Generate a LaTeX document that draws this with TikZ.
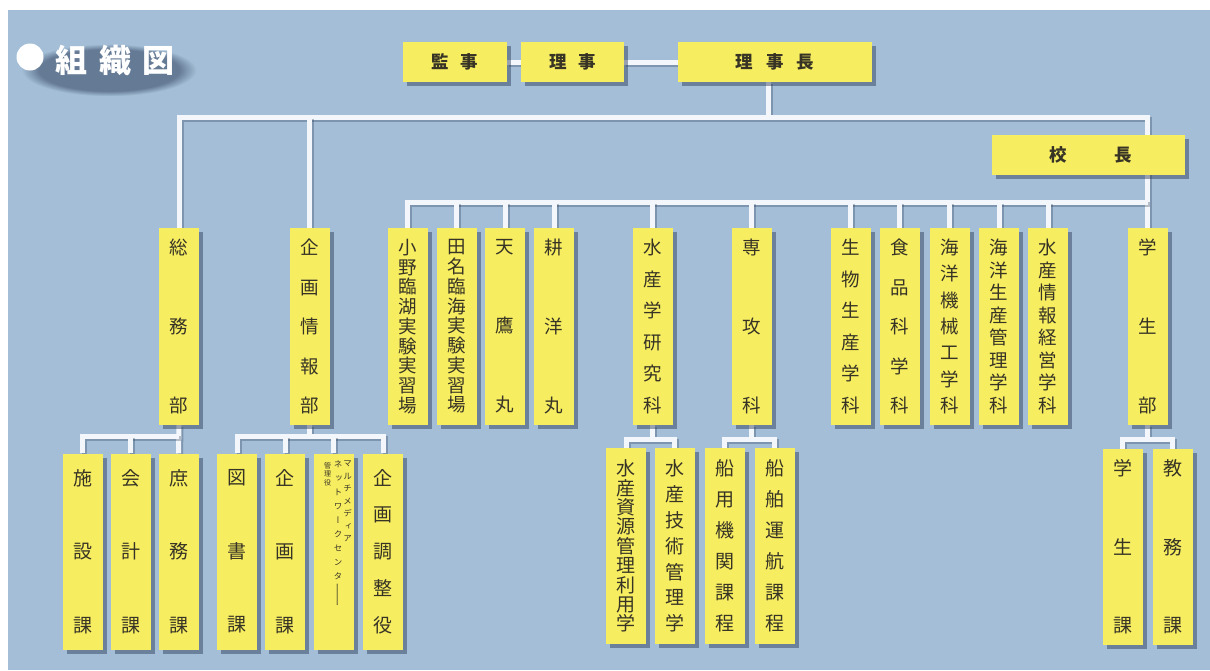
\documentclass[tikz,border=0pt]{standalone}
\usepackage{fontspec}
\setmainfont{Noto Sans CJK JP}
\newfontfamily\vertfont[RawFeature=+vert]{Noto Sans CJK JP}
\usetikzlibrary{shadows,calc,fadings}
\definecolor{bgc}{RGB}{163,190,214}
\definecolor{ybc}{RGB}{247,237,96}
\definecolor{txc}{RGB}{55,52,38}
\definecolor{lnc}{RGB}{243,247,251}
\definecolor{shc}{RGB}{40,55,85}
\pgfdeclarelayer{back}
\pgfdeclarelayer{lines}
\pgfsetlayers{back,lines,main}
\tikzset{
  ybox/.style={fill=ybc, draw=none, inner sep=0pt, text=txc,
    drop shadow={shadow xshift=4pt, shadow yshift=-4pt, fill=shc, opacity=.45}},
  hbox/.style={ybox, minimum height=40pt, font=\fontsize{17.5}{20}\bfseries\selectfont},
  vbox2/.style={ybox, minimum width=40pt, minimum height=197pt, align=center,
    font=\fontsize{18.5}{#1}\selectfont},
  vbox3/.style={ybox, minimum width=40pt, minimum height=196pt, align=center,
    font=\fontsize{19}{#1}\selectfont},
  mcol/.style={inner sep=0pt, text=txc, align=center, anchor=north},
  conn/.style={draw=lnc, line width=5pt, line join=miter,
    preaction={draw=shc, opacity=.3, line width=5pt,
      transform canvas={xshift=2pt, yshift=-2pt}}},
}
\begin{document}
\begin{tikzpicture}[x=1pt, y=-1pt]
\useasboundingbox (0,0) rectangle (1210,670);
\begin{pgfonlayer}{back}
\fill[white] (0,0) rectangle (1210,670);
\fill[bgc] (8,10) rectangle (1210,670);
\end{pgfonlayer}

% title
\fill[shc, opacity=.5, path fading=circle with fuzzy edge 20 percent] (22,44) rectangle (196,96);
\node[circle, fill=white, minimum size=27pt, inner sep=0pt] (dot) at (30,57) {};
\node[font=\fontsize{32}{36}\bfseries\selectfont, text=white] (title) at (115,60) {組\hspace{.35em}織\hspace{.35em}図};

% top row
\node[hbox, minimum width=104pt] (kanji) at (455,62) {監\hspace{.65em}事};
\node[hbox, minimum width=103pt] (riji) at (572.5,62) {理\hspace{.65em}事};
\node[hbox, minimum width=194pt] (rijicho) at (775,62) {理\hspace{.75em}事\hspace{.75em}長};
\node[hbox, minimum width=193pt] (kocho) at (1088,155) {\hspace{5pt}校\hspace{2.7em}長};

% second row
\node[vbox2=79pt] (somu) at (179,326.5) {総\\務\\部};
\node[vbox2=39.5pt] (kikaku) at (309.5,326.5) {企\\画\\情\\報\\部};
\node[vbox2=19.75pt] (ono) at (407.5,326.5) {小\\野\\臨\\湖\\実\\験\\実\\習\\場};
\node[vbox2=19.75pt] (tana) at (456.5,326.5) {田\\名\\臨\\海\\実\\験\\実\\習\\場};
\node[vbox2=79pt] (tenyo) at (505,326.5) {天\\鷹\\丸};
\node[vbox2=79pt] (koyo) at (554,326.5) {耕\\洋\\丸};
\node[vbox2=31.6pt] (suisan) at (652.5,326.5) {水\\産\\学\\研\\究\\科};
\node[vbox2=79pt] (senko) at (751.5,326.5) {専\\攻\\科};
\node[vbox2=31.6pt] (seibutsu) at (850.5,326.5) {生\\物\\生\\産\\学\\科};
\node[vbox2=39.5pt] (shokuhin) at (899.5,326.5) {食\\品\\科\\学\\科};
\node[vbox2=26.33pt] (kikai) at (949.5,326.5) {海\\洋\\機\\械\\工\\学\\科};
\node[vbox2=22.57pt] (seisan) at (999,326.5) {海\\洋\\生\\産\\管\\理\\学\\科};
\node[vbox2=22.57pt] (joho) at (1048,326.5) {水\\産\\情\\報\\経\\営\\学\\科};
\node[vbox2=79pt] (gakuseibu) at (1147.5,326.5) {学\\生\\部};

% third row
\node[vbox3=73.5pt] (shisetsu) at (82.5,551.5) {施\\設\\課};
\node[vbox3=73.5pt] (kaikei) at (130.5,551.5) {会\\計\\課};
\node[vbox3=73.5pt] (shomu) at (178.5,551.5) {庶\\務\\課};
\node[vbox3=73.5pt] (tosho) at (237,551.5) {図\\書\\課};
\node[vbox3=73.5pt] (kikakuka) at (285,551.5) {企\\画\\課};
\node[vbox3=14pt] (multi) at (333.5,551.5) {};
\node[mcol, font=\vertfont\fontsize{8.5}{12.5}\selectfont] (multiA) at (347.5,461) {マ\\ル\\チ\\メ\\デ\\ィ\\ア};
\node[mcol, font=\vertfont\fontsize{8.5}{14}\selectfont] (multiB) at (338,461) {ネ\\ッ\\ト\\ワ\\ー\\ク\\セ\\ン\\タ\\\raisebox{-12pt}{\scalebox{1}[3.2]{ー}}};
\node[mcol, font=\vertfont\fontsize{7}{8.5}\selectfont] (multiC) at (327.5,462) {管\\理\\役};
\node[vbox3=36.75pt] (chosei) at (383,551.5) {企\\画\\調\\整\\役};
\node[vbox3=19.4pt] (shigen) at (626,546) {水\\産\\資\\源\\管\\理\\利\\用\\学};
\node[vbox3=25.8pt] (gijutsu) at (674.5,546) {水\\産\\技\\術\\管\\理\\学};
\node[vbox3=31pt] (senyo) at (724.5,546) {船\\用\\機\\関\\課\\程};
\node[vbox3=31pt] (unko) at (774.5,546) {船\\舶\\運\\航\\課\\程};
\node[vbox3=78.5pt] (gakuseika) at (1122.5,547) {学\\生\\課};
\node[vbox3=78.5pt] (kyomu) at (1172.5,547) {教\\務\\課};

% connectors
\begin{pgfonlayer}{lines}
\coordinate (b1) at (768,117);
\coordinate (b2) at (768,202);
\coordinate (s3) at (0,436);
\coordinate (m3) at (0,439);
\draw[conn] (kanji.east) -- (riji.west);
\draw[conn] (riji.east) -- (rijicho.west);
\draw[conn] ($(rijicho.south)+(-7,0)$) -- (b1);
\draw[conn] (somu.north) |- (gakuseibu.north |- b1) -- (gakuseibu.north);
\draw[conn] (kikaku.north) -- (kikaku.north |- b1);
\draw[conn] (ono.north) |- (gakuseibu.north |- b2);
\foreach \nm in {tana,tenyo,koyo,suisan,senko,seibutsu,shokuhin,kikai,seisan,joho}
  \draw[conn] (\nm.north) -- (\nm.north |- b2);
\draw[conn] (somu.south) -- (shomu.north);
\draw[conn] (shisetsu.north) |- (shomu.north |- s3);
\draw[conn] (kaikei.north) -- (kaikei.north |- s3);
\draw[conn] (kikaku.south) -- (kikaku.south |- s3);
\draw[conn] (tosho.north) |- (chosei.north |- s3) -- (chosei.north);
\draw[conn] (kikakuka.north) -- (kikakuka.north |- s3);
\draw[conn] (multi.north) -- (multi.north |- s3);
\draw[conn] (suisan.south) -- (suisan.south |- m3);
\draw[conn] (shigen.north) |- (gijutsu.north |- m3) -- (gijutsu.north);
\draw[conn] (senko.south) -- (senko.south |- m3);
\draw[conn] (senyo.north) |- (unko.north |- m3) -- (unko.north);
\draw[conn] (gakuseibu.south) -- (gakuseibu.south |- m3);
\draw[conn] (gakuseika.north) |- (kyomu.north |- m3) -- (kyomu.north);
\end{pgfonlayer}
\end{tikzpicture}
\end{document}
